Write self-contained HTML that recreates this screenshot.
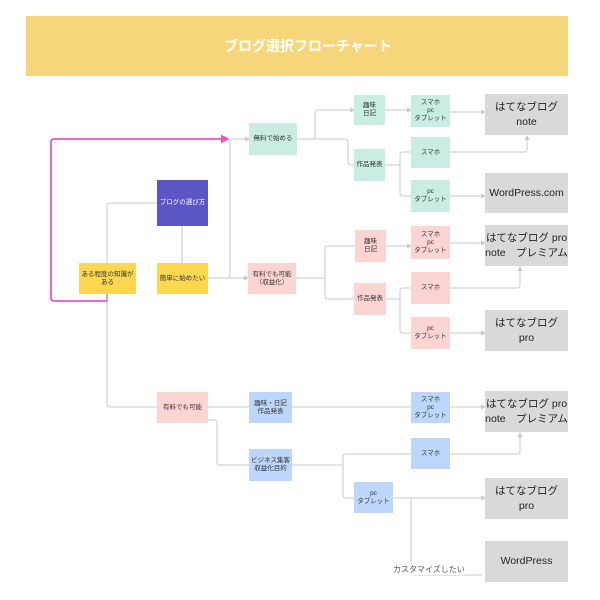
<!DOCTYPE html>
<html><head><meta charset="utf-8"><style>
body{margin:0;width:600px;height:600px;background:#fff;position:relative;overflow:hidden;font-family:"Liberation Sans","Noto Sans CJK JP",sans-serif}
.n{position:absolute;display:flex;align-items:center;justify-content:center;text-align:center;font-size:6.5px;line-height:8px;color:#333}
.t{background:#c9ede3}.p{background:#fcd5d2}.b{background:#bdd6fb}.y{background:#fdd84f}
.g{background:#d9d9d9;font-size:10.5px;line-height:15px;color:#222}
svg{position:absolute;left:0;top:0}
</style></head><body>
<div style="position:absolute;left:26px;top:16px;width:542px;height:60px;background:#f6d67b"></div>
<div style="position:absolute;left:200px;top:36px;width:216px;text-align:center;color:#fff;font-weight:bold;font-size:14px">ブログ選択フローチャート</div>
<svg width="600" height="600" fill="none" stroke="#c8c8c8" stroke-width="1">
<defs><marker id="a" markerWidth="5" markerHeight="5" refX="4" refY="2.5" orient="auto"><path d="M0,0L5,2.5L0,5z" fill="#c8c8c8" stroke="none"/></marker>
<marker id="m" markerWidth="5" markerHeight="5" refX="4" refY="2.5" orient="auto"><path d="M0,0L5,2.5L0,5z" fill="#ee55bb" stroke="none"/></marker></defs>
<path d="M107,294V301H54Q51,301 51,298V142Q51,139 54,139H228" stroke="#ee55bb" stroke-width="1.8" marker-end="url(#m)"/>
<path d="M157,203H110Q107,203 107,206V263"/>
<path d="M182,226V263"/>
<path d="M208,278H227Q230,278 230,275V142Q230,139 233,139H249" marker-end="url(#a)"/>
<path d="M208,278H248" marker-end="url(#a)"/>
<path d="M107,294V404Q107,407 110,407H157"/>
<path d="M297,139H315V113Q315,110 318,110H354" marker-end="url(#a)"/>
<path d="M315,139H345Q348,139 348,142V162Q348,165 351,165H354"/>
<path d="M385,110H411" marker-end="url(#a)"/>
<path d="M450,112H485" marker-end="url(#a)"/>
<path d="M385,165H400V155Q400,152 403,152H411M400,165V193Q400,196 403,196H411"/>
<path d="M450,152H524Q527,152 527,149V136" marker-end="url(#a)"/>
<path d="M450,196H485" marker-end="url(#a)"/>
<path d="M296,278H325V249Q325,246 328,246H355M325,278V295Q325,299 328,299H354"/>
<path d="M386,246H411" marker-end="url(#a)"/>
<path d="M450,243H485" marker-end="url(#a)"/>
<path d="M386,299H400V291Q400,288 403,288H411M400,299V330Q400,333 403,333H411"/>
<path d="M450,288H517Q520,288 520,285V267" marker-end="url(#a)"/>
<path d="M450,333H485" marker-end="url(#a)"/>
<path d="M208,407H249"/>
<path d="M292,407H411"/>
<path d="M450,407H485" marker-end="url(#a)"/>
<path d="M208,420H214Q217,420 217,423V462Q217,465 220,465H249"/>
<path d="M292,465H343V457Q343,454 346,454H411M343,465V495Q343,498 346,498H354"/>
<path d="M450,454H517Q520,454 520,451V433" marker-end="url(#a)"/>
<path d="M393,498H485" marker-end="url(#a)"/>
<path d="M411,498V572Q411,575 414,575H482"/>
</svg>
<div class="n" style="left:157px;top:180px;width:51px;height:46px;background:#5b55c6;color:#fff">ブログの選び方</div>
<div class="n y" style="left:79px;top:263px;width:57px;height:31px">ある程度の知識が<br>ある</div>
<div class="n y" style="left:157px;top:263px;width:51px;height:31px">簡単に始めたい</div>
<div class="n t" style="left:249px;top:123px;width:48px;height:32px">無料で始める</div>
<div class="n p" style="left:248px;top:263px;width:48px;height:31px">有料でも可能<br>（収益化）</div>
<div class="n p" style="left:157px;top:392px;width:51px;height:31px">有料でも可能</div>
<div class="n t" style="left:354px;top:95px;width:31px;height:30px">趣味<br>日記</div>
<div class="n t" style="left:411px;top:95px;width:39px;height:32px">スマホ<br>pc<br>タブレット</div>
<div class="n t" style="left:354px;top:149px;width:31px;height:32px">作品発表</div>
<div class="n t" style="left:411px;top:137px;width:39px;height:31px">スマホ</div>
<div class="n t" style="left:411px;top:180px;width:39px;height:32px">pc<br>タブレット</div>
<div class="n p" style="left:355px;top:230px;width:31px;height:32px">趣味<br>日記</div>
<div class="n p" style="left:411px;top:226px;width:39px;height:33px">スマホ<br>pc<br>タブレット</div>
<div class="n p" style="left:354px;top:283px;width:32px;height:32px">作品発表</div>
<div class="n p" style="left:411px;top:272px;width:39px;height:32px">スマホ</div>
<div class="n p" style="left:411px;top:317px;width:39px;height:32px">pc<br>タブレット</div>
<div class="n b" style="left:249px;top:392px;width:43px;height:31px">趣味・日記<br>作品発表</div>
<div class="n b" style="left:411px;top:392px;width:39px;height:31px">スマホ<br>pc<br>タブレット</div>
<div class="n b" style="left:249px;top:449px;width:43px;height:32px">ビジネス集客<br>収益化目的</div>
<div class="n b" style="left:411px;top:438px;width:39px;height:31px">スマホ</div>
<div class="n b" style="left:354px;top:482px;width:39px;height:31px">pc<br>タブレット</div>
<div class="n g" style="left:485px;top:94px;width:83px;height:41px">はてなブログ<br>note</div>
<div class="n g" style="left:485px;top:173px;width:83px;height:40px">WordPress.com</div>
<div class="n g" style="left:485px;top:225px;width:83px;height:41px">はてなブログ pro<br>note　プレミアム</div>
<div class="n g" style="left:485px;top:310px;width:83px;height:41px">はてなブログ<br>pro</div>
<div class="n g" style="left:485px;top:391px;width:83px;height:41px">はてなブログ pro<br>note　プレミアム</div>
<div class="n g" style="left:485px;top:478px;width:83px;height:41px">はてなブログ<br>pro</div>
<div class="n g" style="left:485px;top:541px;width:83px;height:41px">WordPress</div>
<div style="position:absolute;left:393px;top:564px;font-size:8px;color:#555;background:#fff">カスタマイズしたい</div>
</body></html>
